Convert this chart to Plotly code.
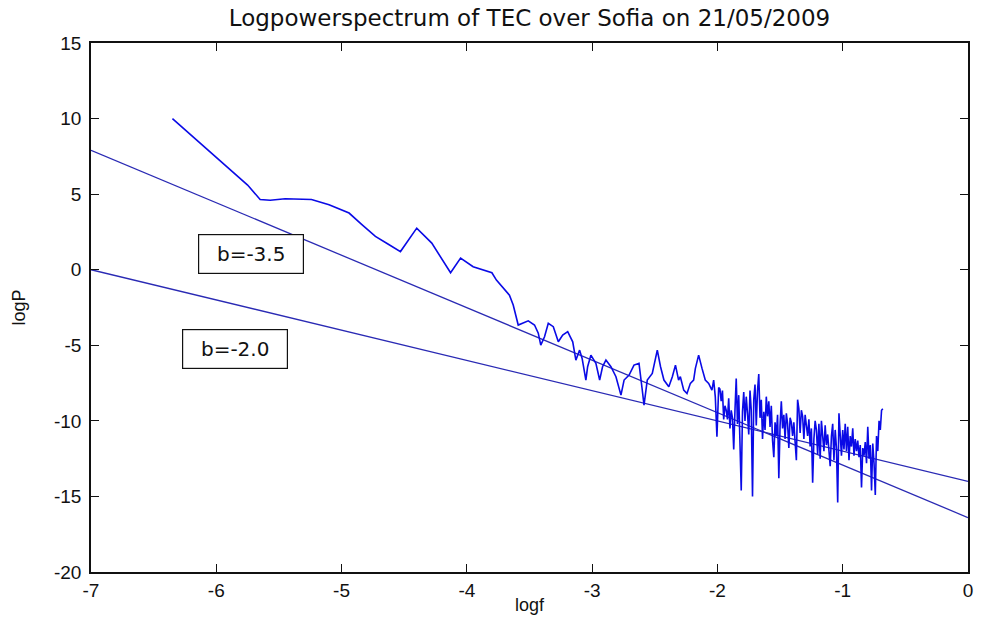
import plotly.graph_objects as go

# Spectrum (log f, log P)
logf = [
    -6.35, -6.05, -5.87, -5.75, -5.65, -5.57, -5.45, -5.35, -5.24, -5.10,
    -4.94, -4.84, -4.73, -4.63, -4.53, -4.40, -4.28, -4.13, -4.05, -3.95,
    -3.80, -3.764, -3.71, -3.66, -3.63, -3.59, -3.51, -3.46, -3.43, -3.41,
    -3.38, -3.35, -3.31, -3.27, -3.235, -3.195, -3.155, -3.13, -3.10, -3.08,
    -3.05, -3.036, -3.01, -2.97, -2.94, -2.917, -2.89, -2.85, -2.81, -2.77,
    -2.745, -2.705, -2.666, -2.626, -2.60, -2.586, -2.56, -2.52, -2.48, -2.454,
    -2.427, -2.388, -2.36, -2.335, -2.31, -2.296, -2.269, -2.243, -2.216, -2.19,
    -2.176, -2.15, -2.123, -2.097, -2.07, -2.044, -2.03, -2.017, -2.004,
    -1.99, -1.98, -1.97, -1.96, -1.95, -1.94, -1.93, -1.92, -1.91, -1.90,
    -1.89, -1.88, -1.87, -1.86, -1.85, -1.84, -1.83, -1.82, -1.81, -1.80,
    -1.79, -1.78, -1.77, -1.76, -1.75, -1.74, -1.73, -1.72, -1.71, -1.70,
    -1.69, -1.68, -1.67, -1.66, -1.65, -1.64, -1.63, -1.62, -1.61, -1.60,
    -1.59, -1.58, -1.57, -1.56, -1.55, -1.54, -1.53, -1.52, -1.51, -1.50,
    -1.49, -1.48, -1.47, -1.46, -1.45, -1.44, -1.43, -1.42, -1.41, -1.40,
    -1.39, -1.38, -1.37, -1.36, -1.35, -1.34, -1.33, -1.32, -1.31, -1.30,
    -1.29, -1.28, -1.27, -1.26, -1.25, -1.24, -1.23, -1.22, -1.21, -1.20,
    -1.19, -1.18, -1.17, -1.16, -1.15, -1.14, -1.13, -1.12, -1.11, -1.10,
    -1.09, -1.08, -1.07, -1.06, -1.05, -1.04, -1.03, -1.02, -1.01, -1.00,
    -0.99, -0.98, -0.97, -0.96, -0.95, -0.94, -0.93, -0.92, -0.91, -0.90,
    -0.89, -0.88, -0.87, -0.86, -0.85, -0.84, -0.83, -0.82, -0.81, -0.80,
    -0.79, -0.78, -0.77, -0.76, -0.75, -0.74, -0.73, -0.72, -0.71, -0.70,
    -0.69, -0.68,
]
logP = [
    10.0, 7.8, 6.5, 5.6, 4.65, 4.6, 4.7, 4.7, 4.65, 4.3,
    3.75, 3.0, 2.2, 1.7, 1.2, 2.75, 1.76, -0.2, 0.77, 0.2,
    -0.2, -0.69, -1.24, -1.68, -2.34, -3.66, -3.38, -3.66, -4.2, -4.99,
    -4.44, -3.55, -3.77, -4.77, -4.33, -4.1, -4.77, -5.98, -5.32, -5.87,
    -7.3, -6.42, -5.65, -6.2, -7.3, -6.42, -5.98, -6.42, -7.08, -8.3,
    -7.3, -6.97, -6.31, -6.2, -7.96, -8.96, -7.3, -6.86, -5.32, -6.42,
    -7.3, -7.74, -7.08, -6.31, -7.3, -7.08, -7.97, -8.19, -7.52, -7.3,
    -6.53, -5.65, -6.53, -7.3, -7.52, -7.97, -7.3, -8.41, -11.05,
    -7.8, -7.9, -8.7, -8.0, -9.9, -9.0, -9.3, -9.9, -8.5, -10.5,
    -9.3, -9.8, -11.9, -9.3, -7.2, -10.2, -8.3, -11.5, -14.6, -9.4,
    -8.1, -10.0, -8.4, -9.5, -10.9, -8.0, -9.3, -15.0, -8.6, -7.6,
    -10.3, -8.0, -6.9, -9.8, -8.6, -11.2, -9.4, -10.6, -8.4, -9.7,
    -8.7, -10.4, -9.0, -11.3, -12.4, -10.1, -11.0, -9.6, -13.8, -10.3,
    -8.7, -10.5, -9.6, -11.2, -9.5, -10.2, -11.8, -9.8, -10.1, -11.0,
    -10.1, -11.4, -12.6, -8.6, -9.2, -10.8, -9.3, -9.7, -11.2, -9.6,
    -10.4, -11.0, -9.9, -11.7, -10.5, -14.1, -11.2, -10.0, -10.6, -12.2,
    -10.2, -12.5, -10.0, -10.8, -12.0, -10.3, -11.6, -10.9, -12.2, -13.0,
    -11.0, -10.2, -12.6, -10.6, -11.8, -15.4, -9.5, -11.4, -12.3, -10.6,
    -11.9, -10.2, -12.0, -10.4, -12.6, -11.0, -11.7, -10.5, -12.3, -11.2,
    -12.0, -11.3, -12.4, -11.6, -14.4, -11.8, -12.3, -11.4, -12.8, -10.4,
    -12.5, -11.6, -14.6, -11.5, -12.8, -14.9, -11.0, -12.0, -10.0, -10.6,
    -9.3, -9.2,
]

# Fitted power-law lines (endpoints)
fit35_x = [-7, 0]
fit35_y = [7.9, -16.4]
fit20_x = [-7, 0]
fit20_y = [0.0, -14.0]

box_labels = ["b=-3.5", "b=-2.0"]
box_x = [-5.72, -5.85]
box_y = [1.04, -5.22]

x_ticks = [-7, -6, -5, -4, -3, -2, -1, 0]
x_labels = ["-7", "-6", "-5", "-4", "-3", "-2", "-1", "0"]
y_ticks = [-20, -15, -10, -5, 0, 5, 10, 15]
y_labels = ["-20", "-15", "-10", "-5", "0", "5", "10", "15"]

FONT = "Liberation Sans, Arial, sans-serif"
WIDE = "DejaVu Sans, sans-serif"

fig = go.Figure()
fig.add_trace(go.Scatter(x=fit35_x, y=fit35_y, mode="lines",
                         line=dict(color="#2a2ab4", width=1.3), showlegend=False))
fig.add_trace(go.Scatter(x=fit20_x, y=fit20_y, mode="lines",
                         line=dict(color="#2a2ab4", width=1.3), showlegend=False))
fig.add_trace(go.Scatter(x=logf, y=logP, mode="lines",
                         line=dict(color="#0a0ae6", width=1.6), showlegend=False))

for t, bx, by in zip(box_labels, box_x, box_y):
    fig.add_annotation(x=bx, y=by, text=t, showarrow=False,
                       font=dict(family=WIDE, size=20, color="#111"),
                       bordercolor="#111", borderwidth=1.2, borderpad=6,
                       bgcolor="white", width=92, height=26)

fig.add_annotation(xref="paper", yref="paper", x=0.5, y=-0.0,
                   yshift=-33, text="logf", showarrow=False,
                   font=dict(family=FONT, size=18, color="#111"), yanchor="middle")
fig.add_annotation(xref="paper", yref="paper", x=0, y=0.5, xshift=-73,
                   text="logP", textangle=-90, showarrow=False,
                   font=dict(family=FONT, size=18, color="#111"), xanchor="center")

fig.update_layout(
    width=985, height=631,
    margin=dict(l=91, r=13, t=43, b=59),
    paper_bgcolor="white", plot_bgcolor="white",
    title=dict(text="Logpowerspectrum of TEC over Sofia on 21/05/2009",
               x=0.5, xref="paper", xanchor="center",
               y=1 - 18 / 631, yref="container", yanchor="middle",
               font=dict(family=WIDE, size=23, color="#111")),
    xaxis=dict(range=[-7, 0], tickvals=x_ticks, ticktext=x_labels,
               ticks="inside", ticklen=8,
               tickwidth=1.2, tickcolor="#111", showline=True, linecolor="#111",
               linewidth=1.5, mirror="ticks", showgrid=False, zeroline=False,
               tickfont=dict(family=FONT, size=19, color="#111")),
    yaxis=dict(range=[-20, 15], tickvals=y_ticks, ticktext=y_labels,
               ticks="inside", ticklen=8, ticklabelstandoff=4,
               tickwidth=1.2, tickcolor="#111", showline=True, linecolor="#111",
               linewidth=1.5, mirror="ticks", showgrid=False, zeroline=False,
               tickfont=dict(family=FONT, size=19, color="#111")),
)

fig.write_html("out.html")
